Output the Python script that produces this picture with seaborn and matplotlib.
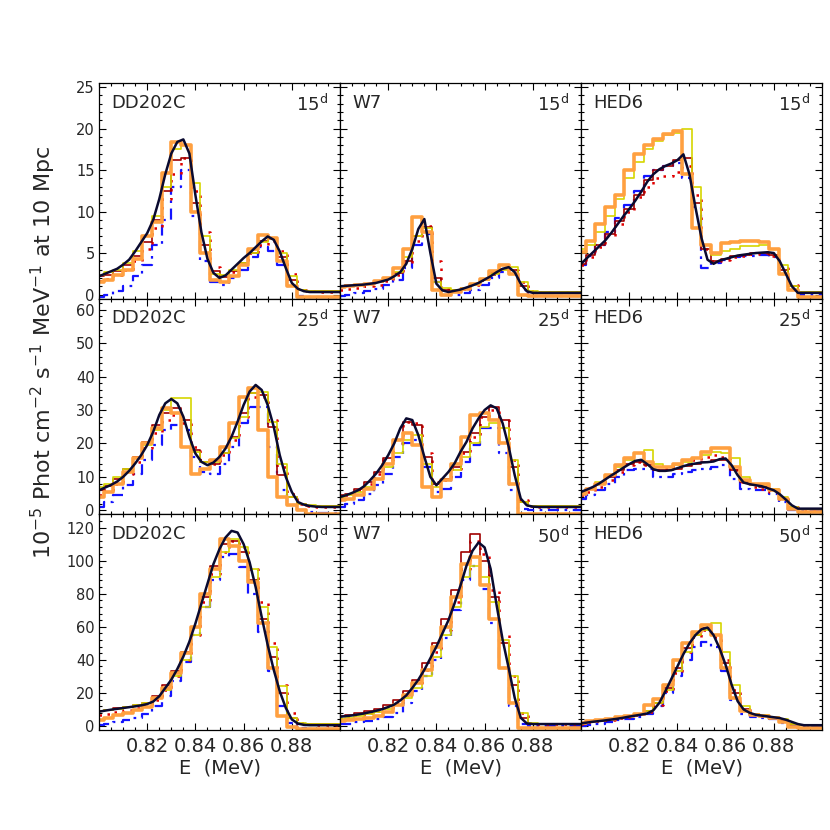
import numpy as np
import pandas as pd
import seaborn as sns
import matplotlib.pyplot as plt
from matplotlib.ticker import MultipleLocator, FixedLocator, FormatStrFormatter

# 56Co 847 keV line profiles: models DD202C / W7 / HED6 at 15, 25 and 50 days
# smooth model curve + five simulated spectra (binned)

sns.set_style("ticks")
plt.rcParams['font.family'] = ['DejaVu Sans']

e_model = np.round(np.arange(0.800, 0.90001, 0.0025), 4)   # 41 points
e_bins = np.round(np.arange(0.800, 0.90001, 0.004), 4)     # 26 bin centres

models = ['DD202C', 'W7', 'HED6']
epochs = ['15', '25', '50']

# ---------------- DD202C, 15 d
dd202c_15_model = [2.2, 2.5, 2.8, 3.1, 3.6, 4.2, 5.2, 6.3, 7.4, 9.0,
                   11.5, 14.5, 17.0, 18.4, 18.7, 17.0, 12.0, 7.5, 4.3, 2.6,
                   2.0, 2.3, 3.0, 3.7, 4.4, 5.0, 5.7, 6.4, 7.0, 6.6,
                   5.2, 3.2, 1.4, 0.7, 0.4, 0.3, 0.3, 0.3, 0.3, 0.3, 0.3]
dd202c_15_orange = [1.5, 1.8, 2.3, 3.0, 4.3, 7.0, 8.7, 14.6, 18.4, 18.0, 10.0, 5.0, 1.7,
                    1.5, 2.2, 3.5, 5.5, 7.2, 6.8, 4.0, 1.0, -0.3, -0.3, -0.3, -0.3, -0.3]
dd202c_15_yellow = [2.4, 2.7, 3.0, 3.8, 5.2, 7.0, 9.5, 13.0, 17.5, 18.0, 13.5, 7.0, 2.5,
                    2.3, 3.0, 3.8, 5.0, 6.3, 6.8, 5.0, 2.2, 0.5, 0.4, 0.4, 0.4, 0.4]
dd202c_15_darkred = [2.2, 2.4, 2.8, 3.5, 4.6, 6.3, 9.0, 12.5, 16.2, 16.5, 11.0, 6.0, 2.8,
                     2.1, 2.8, 3.8, 5.0, 6.5, 6.7, 4.5, 1.8, 0.6, 0.4, 0.4, 0.4, 0.4]
dd202c_15_red = [1.6, 1.9, 2.3, 3.0, 4.0, 5.5, 8.0, 11.5, 14.5, 16.5, 12.5, 7.5, 3.3,
                 2.2, 2.7, 3.7, 5.0, 6.0, 6.5, 5.3, 2.5, 0.7, 0.4, 0.3, 0.3, 0.3]
dd202c_15_blue = [-0.3, 0.0, 0.4, 1.0, 2.2, 3.5, 6.0, 9.0, 13.0, 15.0, 9.5, 4.0, 1.5,
                  1.2, 2.0, 3.0, 4.5, 5.7, 5.3, 3.5, 1.0, -0.2, -0.3, -0.3, -0.3, -0.3]

# ---------------- W7, 15 d
w7_15_model = [1.0, 1.05, 1.1, 1.15, 1.2, 1.3, 1.4, 1.6, 1.8, 2.2,
               2.7, 3.7, 5.5, 7.9, 9.1, 5.0, 1.3, 0.5, 0.3, 0.45,
               0.6, 0.85, 1.1, 1.4, 1.8, 2.2, 2.7, 3.1, 3.3, 2.7,
               1.3, 0.4, 0.2, 0.2, 0.2, 0.2, 0.2, 0.2, 0.2, 0.2, 0.2]
w7_15_orange = [0.9, 1.0, 1.1, 1.3, 1.6, 2.0, 3.2, 5.5, 9.3, 7.5, 0.5, -0.1, 0.3,
                0.7, 1.3, 1.9, 2.8, 3.5, 2.5, -0.1, -0.2, -0.2, -0.2, -0.2, -0.2, -0.2]
w7_15_yellow = [0.9, 1.0, 1.2, 1.3, 1.5, 2.0, 2.7, 4.5, 7.0, 8.0, 1.5, 0.8, 0.6,
                0.8, 1.2, 1.8, 2.5, 3.0, 3.3, 1.5, 0.4, 0.3, 0.3, 0.3, 0.3, 0.3]
w7_15_darkred = [1.0, 1.1, 1.2, 1.3, 1.5, 1.9, 2.6, 4.0, 7.0, 8.2, 2.0, 0.5, 0.5,
                 0.8, 1.2, 1.8, 2.6, 3.1, 3.0, 1.0, 0.3, 0.3, 0.3, 0.3, 0.3, 0.3]
w7_15_red = [0.6, 0.7, 0.8, 1.0, 1.2, 1.6, 2.3, 3.8, 6.5, 8.3, 4.0, 0.7, 0.5,
             0.7, 1.1, 1.7, 2.5, 3.0, 2.9, 1.5, 0.4, 0.3, 0.3, 0.3, 0.3, 0.3]
w7_15_blue = [-0.2, 0.0, 0.2, 0.4, 0.7, 1.1, 1.8, 3.2, 6.0, 7.3, 1.5, 0.0, -0.1,
              0.2, 0.6, 1.2, 2.0, 2.7, 2.5, 0.5, -0.2, -0.2, -0.2, -0.2, -0.2, -0.2]

# ---------------- HED6, 15 d
hed6_15_model = [3.7, 4.4, 5.1, 5.8, 6.5, 7.4, 8.4, 9.4, 10.3, 11.3,
                 12.4, 13.6, 14.5, 15.1, 15.5, 15.8, 16.2, 16.9, 14.5, 10.5,
                 6.8, 4.2, 3.7, 4.1, 4.3, 4.5, 4.7, 4.8, 4.9, 5.0,
                 5.05, 5.1, 5.0, 4.0, 2.5, 1.0, 0.2, 0.2, 0.2, 0.2, 0.2]
hed6_15_orange = [5.1, 6.5, 8.5, 10.5, 12.0, 15.0, 17.0, 18.0, 18.7, 19.3, 19.7, 14.5, 8.0,
                  6.0, 5.0, 6.2, 6.3, 6.4, 6.4, 6.3, 5.5, 2.5, 0.5, -0.3, -0.3, -0.3]
hed6_15_yellow = [5.5, 6.0, 7.5, 9.5, 11.5, 14.0, 16.0, 17.5, 18.5, 19.2, 19.5, 20.0, 13.0,
                  6.0, 4.8, 5.3, 5.5, 5.8, 5.9, 6.0, 5.5, 3.5, 1.0, 0.3, 0.3, 0.3]
hed6_15_darkred = [3.7, 4.8, 6.0, 7.3, 8.9, 10.3, 12.0, 13.8, 15.0, 15.5, 16.2, 16.5, 11.0,
                   5.5, 4.0, 4.3, 4.6, 4.8, 5.0, 5.0, 4.8, 3.0, 1.0, 0.3, 0.3, 0.3]
hed6_15_red = [3.5, 4.5, 5.7, 7.0, 8.5, 10.0, 11.8, 13.0, 14.0, 14.3, 14.8, 15.5, 12.0,
               5.5, 4.0, 4.2, 4.5, 4.7, 4.9, 5.0, 4.7, 3.2, 1.2, 0.3, 0.3, 0.3]
hed6_15_blue = [3.6, 4.7, 6.0, 7.5, 9.2, 10.8, 12.5, 14.3, 15.0, 15.5, 15.8, 14.0, 10.5,
                3.2, 3.8, 4.2, 4.5, 4.6, 4.7, 4.8, 4.5, 2.5, 0.5, 0.0, 0.0, 0.0]

# ---------------- DD202C, 25 d
dd202c_25_model = [6.0, 6.8, 7.6, 8.6, 10.0, 11.8, 14.0, 16.5, 19.5, 23.5,
                   28.5, 32.0, 33.3, 32.0, 28.0, 22.0, 17.0, 14.5, 13.5, 14.3,
                   16.0, 18.5, 22.0, 26.5, 31.5, 35.5, 37.5, 36.0, 31.5, 25.0,
                   16.5, 10.0, 5.5, 2.5, 1.7, 1.3, 1.1, 1.0, 1.0, 1.0, 1.0]
dd202c_25_orange = [4.0, 5.5, 8.0, 11.5, 15.5, 20.0, 24.5, 30.5, 29.0, 19.0, 11.0, 12.5, 15.0,
                    19.0, 26.0, 34.0, 36.5, 24.0, 10.0, 4.0, 1.5, 0.0, -1.0, -1.0, -1.0, -1.0]
dd202c_25_yellow = [7.0, 8.0, 10.0, 12.5, 15.5, 19.5, 24.0, 30.0, 33.5, 33.5, 17.5, 14.5, 14.5,
                    17.0, 21.5, 28.0, 35.0, 35.5, 26.5, 14.0, 4.0, 2.0, 1.5, 1.2, 1.2, 1.2]
dd202c_25_darkred = [6.0, 7.3, 9.5, 12.5, 16.0, 20.5, 25.5, 29.0, 30.5, 27.0, 18.0, 14.5, 14.0,
                     17.0, 22.0, 29.0, 35.0, 34.5, 25.0, 10.5, 4.0, 1.8, 1.3, 1.2, 1.2, 1.2]
dd202c_25_red = [4.5, 6.0, 8.0, 11.0, 14.5, 18.5, 23.0, 27.0, 28.5, 26.0, 19.0, 15.0, 14.0,
                 16.5, 21.0, 28.0, 34.0, 34.0, 27.0, 13.0, 5.0, 2.0, 1.2, 1.0, 1.0, 1.0]
dd202c_25_blue = [1.0, 2.5, 4.5, 7.5, 11.0, 15.0, 19.5, 24.0, 25.5, 24.0, 16.0, 11.5, 11.0,
                  14.0, 19.0, 26.0, 31.0, 31.0, 19.0, 6.0, 1.5, 0.0, -0.5, -0.8, -0.8, -0.8]

# ---------------- W7, 25 d
w7_25_model = [4.0, 4.5, 5.2, 6.0, 7.2, 9.0, 11.0, 13.5, 16.5, 20.0,
               24.5, 27.5, 27.0, 22.5, 16.0, 10.0, 7.5, 9.5, 11.5, 14.0,
               17.5, 20.5, 24.5, 27.5, 30.0, 31.4, 30.5, 26.0, 19.0, 10.5,
               3.5, 1.5, 1.1, 1.0, 1.0, 1.0, 1.0, 1.0, 1.0, 1.0, 1.0]
w7_25_orange = [3.0, 3.5, 4.5, 6.5, 9.5, 14.0, 21.0, 23.0, 19.5, 7.0, 4.0, 9.0, 14.0,
                22.0, 28.5, 29.0, 27.0, 20.0, 8.0, -1.0, -1.0, -1.0, -1.0, -1.0, -1.0, -1.0]
w7_25_yellow = [4.0, 4.5, 5.5, 7.0, 9.5, 13.0, 17.0, 21.0, 22.5, 14.0, 7.0, 9.0, 12.0,
                16.0, 20.0, 25.0, 26.0, 24.5, 15.0, 2.5, 1.2, 1.2, 1.2, 1.2, 1.2, 1.2]
w7_25_darkred = [4.5, 5.0, 6.5, 8.5, 11.5, 15.5, 21.0, 26.5, 25.5, 16.0, 8.0, 9.5, 13.0,
                 17.5, 23.0, 28.0, 31.0, 27.0, 13.0, 2.5, 1.2, 1.2, 1.2, 1.2, 1.2, 1.2]
w7_25_red = [3.5, 4.5, 6.0, 8.0, 11.0, 15.0, 20.0, 26.5, 26.0, 17.0, 8.5, 9.0, 12.5,
             17.0, 22.0, 28.0, 30.0, 27.0, 15.0, 3.0, 1.2, 1.0, 1.0, 1.0, 1.0, 1.0]
w7_25_blue = [1.0, 1.8, 3.0, 4.8, 7.5, 11.0, 16.0, 20.0, 21.0, 13.0, 5.5, 6.5, 10.0,
              14.5, 19.5, 24.5, 24.5, 17.0, 6.0, 0.5, 0.0, 0.0, 0.0, 0.0, 0.0, 0.0]

# ---------------- HED6, 25 d
hed6_25_model = [5.5, 6.2, 7.0, 8.0, 9.2, 10.4, 11.5, 12.7, 13.8, 14.8,
                 15.1, 13.8, 12.3, 11.8, 11.8, 12.0, 12.6, 13.2, 13.7, 14.0,
                 14.3, 14.4, 14.6, 15.3, 15.5, 13.5, 10.5, 8.3, 7.8, 7.5,
                 7.2, 6.6, 6.0, 4.8, 3.2, 1.5, 0.5, 0.5, 0.5, 0.5, 0.5]
hed6_25_orange = [5.0, 6.5, 8.0, 10.5, 13.5, 15.5, 17.0, 14.5, 13.0, 13.0, 14.0, 15.0, 15.5,
                  17.5, 18.5, 18.5, 13.0, 9.0, 8.0, 7.8, 6.0, 3.5, 0.5, -0.5, -0.5, -0.5]
hed6_25_yellow = [5.5, 6.5, 8.5, 10.5, 13.0, 15.0, 17.0, 18.0, 14.0, 13.0, 13.5, 14.5, 15.5,
                  16.5, 17.5, 17.0, 15.5, 10.0, 8.0, 7.5, 6.5, 4.0, 1.0, 0.5, 0.5, 0.5]
hed6_25_darkred = [5.5, 6.5, 8.0, 10.0, 12.0, 13.8, 14.5, 13.5, 12.0, 12.0, 12.5, 13.2, 14.0,
                   14.5, 15.0, 15.0, 12.0, 8.5, 7.5, 7.0, 6.0, 3.5, 0.8, 0.5, 0.5, 0.5]
hed6_25_red = [4.5, 5.5, 7.0, 9.0, 11.5, 13.5, 14.5, 13.5, 12.0, 12.5, 13.5, 14.0, 15.0,
               16.0, 16.5, 16.0, 12.0, 8.5, 7.0, 6.5, 5.5, 3.5, 1.0, 0.5, 0.5, 0.5]
hed6_25_blue = [3.5, 4.5, 6.0, 8.0, 10.0, 12.0, 12.5, 12.3, 10.0, 10.0, 11.0, 11.5, 12.0,
                12.5, 13.0, 13.5, 9.5, 6.5, 6.0, 6.0, 5.0, 2.5, 0.0, 0.0, 0.0, 0.0]

# ---------------- DD202C, 50 d
dd202c_50_model = [8.7, 9.3, 9.9, 10.4, 10.9, 11.4, 11.9, 12.5, 13.3, 14.8,
                   18.0, 23.0, 28.0, 34.5, 42.0, 51.0, 62.0, 74.0, 86.0, 98.0,
                   107.0, 114.0, 118.0, 117.0, 110.0, 99.0, 84.0, 66.0, 49.0, 34.0,
                   21.0, 11.0, 4.0, 1.5, 0.7, 0.5, 0.5, 0.5, 0.5, 0.5, 0.5]
dd202c_50_orange = [3.5, 5.0, 6.5, 8.0, 9.5, 11.5, 17.0, 23.0, 32.0, 44.0, 60.0, 80.0, 95.0,
                    113.0, 109.0, 100.0, 87.0, 62.0, 35.0, 6.0, -0.5, -2.0, -2.0, -2.0, -2.0, -2.0]
dd202c_50_yellow = [9.0, 9.5, 10.5, 11.5, 12.5, 14.0, 17.0, 22.0, 30.0, 40.0, 55.0, 72.0, 90.0,
                    105.0, 113.0, 108.0, 95.0, 72.0, 48.0, 24.0, 5.0, 2.0, 1.5, 1.5, 1.5, 1.5]
dd202c_50_darkred = [9.0, 9.8, 10.8, 11.8, 12.8, 14.0, 18.0, 25.0, 33.0, 45.0, 60.0, 78.0, 97.0,
                     110.0, 112.0, 105.0, 88.0, 65.0, 42.0, 20.0, 5.0, 1.5, 1.0, 1.0, 1.0, 1.0]
dd202c_50_red = [6.5, 7.5, 8.5, 9.5, 11.0, 13.0, 16.0, 22.0, 30.0, 40.0, 55.0, 75.0, 92.0,
                 105.0, 112.0, 108.0, 95.0, 75.0, 50.0, 25.0, 8.0, 2.0, 1.0, 0.8, 0.8, 0.8]
dd202c_50_blue = [0.5, 1.5, 2.5, 3.5, 5.0, 7.0, 12.0, 18.0, 27.0, 39.0, 55.0, 72.0, 88.0,
                  102.0, 104.0, 96.0, 80.0, 57.0, 33.0, 12.0, 2.0, -1.0, -1.5, -1.5, -1.5, -1.5]

# ---------------- W7, 50 d
w7_50_model = [5.6, 6.0, 6.4, 7.0, 7.6, 8.4, 9.2, 10.2, 11.5, 13.0,
               15.5, 18.5, 23.0, 28.0, 34.0, 41.0, 48.0, 56.0, 64.0, 74.0,
               85.0, 97.0, 106.0, 111.0, 108.0, 95.0, 73.0, 52.0, 35.0, 17.0,
               5.0, 1.6, 1.2, 1.2, 1.2, 1.2, 1.2, 1.2, 1.2, 1.2, 1.2]
w7_50_orange = [3.0, 3.5, 4.2, 5.0, 6.2, 8.5, 13.0, 19.0, 26.0, 34.0, 48.0, 60.0, 78.0,
                98.0, 102.0, 85.0, 65.0, 35.0, 14.0, -1.0, -1.0, -1.0, -1.0, -1.0, -1.0, -1.0]
w7_50_yellow = [4.5, 5.0, 6.0, 7.0, 8.5, 10.0, 13.0, 17.0, 23.0, 30.0, 42.0, 55.0, 72.0,
                90.0, 97.0, 90.0, 75.0, 52.0, 30.0, 8.0, 2.0, 1.5, 1.5, 1.5, 1.5, 1.5]
w7_50_darkred = [6.0, 6.8, 7.8, 9.0, 10.5, 12.5, 16.0, 21.0, 28.0, 38.0, 50.0, 65.0, 82.0,
                 105.0, 116.0, 100.0, 78.0, 50.0, 25.0, 5.0, 1.5, 1.5, 1.5, 1.5, 1.5, 1.5]
w7_50_red = [4.5, 5.5, 6.5, 7.8, 9.0, 11.0, 14.0, 19.0, 26.0, 34.0, 45.0, 58.0, 75.0,
             95.0, 112.0, 104.0, 82.0, 55.0, 30.0, 8.0, 2.0, 1.2, 1.2, 1.2, 1.2, 1.2]
w7_50_blue = [1.0, 1.5, 2.2, 3.0, 4.0, 5.5, 8.0, 14.0, 21.0, 30.0, 40.0, 53.0, 70.0,
              88.0, 97.0, 83.0, 62.0, 35.0, 12.0, 1.0, 0.0, 0.0, 0.0, 0.0, 0.0, 0.0]

# ---------------- HED6, 50 d
hed6_50_model = [1.6, 2.1, 2.6, 3.0, 3.4, 3.9, 4.4, 5.0, 5.7, 6.3,
                 6.9, 7.6, 9.5, 14.0, 21.0, 28.5, 36.0, 43.5, 50.0, 55.0,
                 58.5, 59.5, 55.0, 47.0, 37.0, 25.0, 15.0, 10.0, 8.0, 6.8,
                 6.3, 5.8, 5.3, 4.8, 3.8, 2.5, 1.2, 0.5, 0.5, 0.5, 0.5]
hed6_50_orange = [1.8, 2.8, 3.5, 4.5, 5.5, 6.3, 7.2, 12.5, 16.5, 25.0, 40.0, 50.0, 57.0,
                  61.0, 55.0, 35.0, 17.0, 9.0, 6.6, 6.3, 4.6, 2.6, -0.8, -1.0, -1.0, -1.0]
hed6_50_yellow = [2.0, 2.8, 3.6, 4.5, 5.5, 6.3, 7.0, 9.0, 14.0, 22.0, 33.0, 45.0, 55.0,
                  58.0, 62.0, 45.0, 25.0, 12.0, 7.5, 6.5, 5.5, 4.0, 1.5, 0.5, 0.5, 0.5]
hed6_50_darkred = [1.5, 2.5, 3.3, 4.2, 5.2, 6.0, 7.0, 9.0, 14.0, 23.0, 35.0, 47.0, 55.0,
                   59.0, 55.0, 38.0, 20.0, 10.0, 7.0, 6.0, 5.0, 3.5, 1.0, 0.5, 0.5, 0.5]
hed6_50_red = [1.5, 2.3, 3.0, 3.8, 4.8, 5.6, 6.5, 8.5, 13.0, 21.0, 32.0, 45.0, 54.0,
               58.0, 54.0, 40.0, 22.0, 10.0, 7.0, 6.0, 5.0, 3.5, 1.2, 0.5, 0.5, 0.5]
hed6_50_blue = [0.0, 0.8, 1.5, 2.5, 3.5, 4.5, 5.5, 7.0, 12.0, 20.0, 30.0, 40.0, 48.0,
                51.0, 48.0, 33.0, 16.0, 7.5, 5.5, 5.0, 4.0, 2.0, 0.0, 0.0, 0.0, 0.0]

panels = {
    ('DD202C', '15'): [dd202c_15_model, dd202c_15_blue, dd202c_15_red, dd202c_15_darkred, dd202c_15_yellow, dd202c_15_orange],
    ('W7', '15'): [w7_15_model, w7_15_blue, w7_15_red, w7_15_darkred, w7_15_yellow, w7_15_orange],
    ('HED6', '15'): [hed6_15_model, hed6_15_blue, hed6_15_red, hed6_15_darkred, hed6_15_yellow, hed6_15_orange],
    ('DD202C', '25'): [dd202c_25_model, dd202c_25_blue, dd202c_25_red, dd202c_25_darkred, dd202c_25_yellow, dd202c_25_orange],
    ('W7', '25'): [w7_25_model, w7_25_blue, w7_25_red, w7_25_darkred, w7_25_yellow, w7_25_orange],
    ('HED6', '25'): [hed6_25_model, hed6_25_blue, hed6_25_red, hed6_25_darkred, hed6_25_yellow, hed6_25_orange],
    ('DD202C', '50'): [dd202c_50_model, dd202c_50_blue, dd202c_50_red, dd202c_50_darkred, dd202c_50_yellow, dd202c_50_orange],
    ('W7', '50'): [w7_50_model, w7_50_blue, w7_50_red, w7_50_darkred, w7_50_yellow, w7_50_orange],
    ('HED6', '50'): [hed6_50_model, hed6_50_blue, hed6_50_red, hed6_50_darkred, hed6_50_yellow, hed6_50_orange],
}

# styles of the binned spectra (drawn in this order)
step_styles = [
    dict(color='#1414ff', lw=1.6, ls=(0, (5, 2.5, 1.2, 2.5))),   # blue dash-dot
    dict(color='#e00000', lw=1.8, ls=(0, (1, 2.6))),             # red dotted
    dict(color='#a00000', lw=1.2, ls='-'),                        # dark red
    dict(color='#d6d600', lw=1.2, ls='-'),                        # yellow
    dict(color='#ffa040', lw=2.6, ls='-'),                        # orange
]

ylims = {'15': (-0.5, 25.5), '25': (-1.2, 63.3), '50': (-2.4, 128)}
ymaj = {'15': 5, '25': 10, '50': 20}
ymin = {'15': 1, '25': 2, '50': 4}

fig, axes = plt.subplots(3, 3, figsize=(8.3, 8.3), dpi=100)
fig.subplots_adjust(left=99/830, right=822/830, bottom=1-730/830, top=1-83/830,
                    wspace=0, hspace=0)

for r, ep in enumerate(epochs):
    for c, mod in enumerate(models):
        ax = axes[r, c]
        series = panels[(mod, ep)]
        for vals, st in zip(series[1:], step_styles):
            sns.lineplot(x=e_bins, y=vals, ax=ax, drawstyle='steps-mid',
                         color=st['color'], lw=st['lw'], linestyle=st['ls'],
                         errorbar=None, legend=False)
        sns.lineplot(x=e_model, y=series[0], ax=ax, color='#0a0a30', lw=1.8,
                     errorbar=None, legend=False)

        ax.set_xlim(0.80, 0.90)
        ax.set_ylim(*ylims[ep])
        ax.xaxis.set_major_locator(FixedLocator([0.82, 0.84, 0.86, 0.88]))
        ax.xaxis.set_major_formatter(FormatStrFormatter('%.2f'))
        ax.xaxis.set_minor_locator(MultipleLocator(0.005))
        ax.yaxis.set_major_locator(MultipleLocator(ymaj[ep]))
        ax.yaxis.set_minor_locator(MultipleLocator(ymin[ep]))
        ax.tick_params(which='both', direction='in', top=True, right=True,
                       width=0.8, color='black')
        ax.tick_params(which='major', length=5)
        ax.tick_params(which='minor', length=2.5)
        ax.tick_params(axis='y', labelsize=10.5, pad=3)
        ax.tick_params(axis='x', labelsize=14, pad=5)
        for sp in ax.spines.values():
            sp.set_linewidth(0.9)
            sp.set_color('black')
        if c > 0:
            ax.tick_params(axis='y', labelleft=False)
        if r < 2:
            ax.tick_params(axis='x', labelbottom=False)
        else:
            ax.set_xlabel('E  (MeV)', fontsize=14, labelpad=2)
        ax.set_ylabel('')

        ax.text(0.05, 0.95, mod, transform=ax.transAxes, ha='left', va='top',
                fontsize=13)
        ax.text(0.95, 0.95, ep + r'$^\mathregular{d}$', transform=ax.transAxes,
                ha='right', va='top', fontsize=13)

fig.text(0.052, 1 - 352/830,
         r'10$^{-5}$ Phot cm$^{-2}$ s$^{-1}$ MeV$^{-1}$ at 10 Mpc',
         rotation=90, ha='center', va='center', fontsize=16)

fig.savefig('out.png', dpi=100)
